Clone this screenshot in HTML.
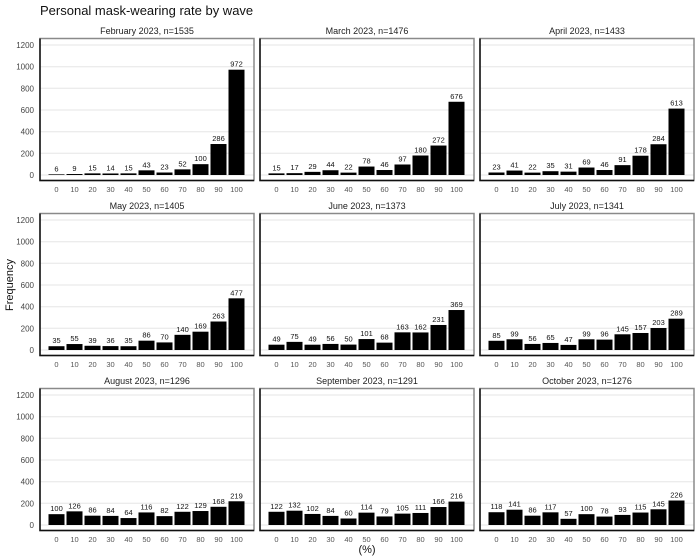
<!DOCTYPE html>
<html><head><meta charset="utf-8"><style>
html,body{margin:0;padding:0;background:#fff;}
svg{display:block;font-family:"Liberation Sans",sans-serif;}
.g{stroke:#e6e6e6;stroke-width:1;}
.bx{fill:none;stroke:#8a8a8a;stroke-width:1.5;}
.ax{stroke:#111;stroke-width:1.5;fill:none;}
.t{font-size:9px;fill:#222;text-anchor:middle;}
.v{font-size:7.5px;fill:#111;text-anchor:middle;}
.xt{font-size:7.5px;fill:#555;text-anchor:middle;}
.yt{font-size:8px;fill:#444;text-anchor:end;}
</style></head><body>
<svg width="700" height="560" viewBox="0 0 700 560" xmlns="http://www.w3.org/2000/svg">
<text x="40" y="15" font-size="13" fill="#111">Personal mask-wearing rate by wave</text>
<text transform="translate(13,285) rotate(-90)" font-size="11" fill="#111" text-anchor="middle">Frequency</text>
<text x="367" y="553" font-size="11" fill="#111" text-anchor="middle">(%)</text>

<g>
<text class="yt" x="34" y="178">0</text><text class="yt" x="34" y="156.3">200</text><text class="yt" x="34" y="134.7">400</text><text class="yt" x="34" y="113">600</text><text class="yt" x="34" y="91.3">800</text><text class="yt" x="34" y="69.7">1000</text><text class="yt" x="34" y="48">1200</text>
</g>
<g transform="translate(0,175)">
<text class="yt" x="34" y="178">0</text><text class="yt" x="34" y="156.3">200</text><text class="yt" x="34" y="134.7">400</text><text class="yt" x="34" y="113">600</text><text class="yt" x="34" y="91.3">800</text><text class="yt" x="34" y="69.7">1000</text><text class="yt" x="34" y="48">1200</text>
</g>
<g transform="translate(0,350)">
<text class="yt" x="34" y="178">0</text><text class="yt" x="34" y="156.3">200</text><text class="yt" x="34" y="134.7">400</text><text class="yt" x="34" y="113">600</text><text class="yt" x="34" y="91.3">800</text><text class="yt" x="34" y="69.7">1000</text><text class="yt" x="34" y="48">1200</text>
</g>

<defs>
<g id="frame">
<path class="g" d="M40 175H254M40 153.3H254M40 131.7H254M40 110H254M40 88.3H254M40 66.7H254M40 45H254"/>
<rect class="bx" x="40" y="38.5" width="214" height="142"/>
<path class="ax" d="M40 38.5V180.5H254"/>
</g>
</defs>

<use href="#frame"/><use href="#frame" x="220"/><use href="#frame" x="440"/>
<use href="#frame" y="175"/><use href="#frame" x="220" y="175"/><use href="#frame" x="440" y="175"/>
<use href="#frame" y="350"/><use href="#frame" x="220" y="350"/><use href="#frame" x="440" y="350"/>

<g>
<text class="xt" x="56.5" y="192">0</text><text class="xt" x="74.5" y="192">10</text><text class="xt" x="92.5" y="192">20</text><text class="xt" x="110.5" y="192">30</text><text class="xt" x="128.5" y="192">40</text><text class="xt" x="146.5" y="192">50</text><text class="xt" x="164.5" y="192">60</text><text class="xt" x="182.5" y="192">70</text><text class="xt" x="200.5" y="192">80</text><text class="xt" x="218.5" y="192">90</text><text class="xt" x="236.5" y="192">100</text>
</g>
<g transform="translate(220,0)">
<text class="xt" x="56.5" y="192">0</text><text class="xt" x="74.5" y="192">10</text><text class="xt" x="92.5" y="192">20</text><text class="xt" x="110.5" y="192">30</text><text class="xt" x="128.5" y="192">40</text><text class="xt" x="146.5" y="192">50</text><text class="xt" x="164.5" y="192">60</text><text class="xt" x="182.5" y="192">70</text><text class="xt" x="200.5" y="192">80</text><text class="xt" x="218.5" y="192">90</text><text class="xt" x="236.5" y="192">100</text>
</g>
<g transform="translate(440,0)">
<text class="xt" x="56.5" y="192">0</text><text class="xt" x="74.5" y="192">10</text><text class="xt" x="92.5" y="192">20</text><text class="xt" x="110.5" y="192">30</text><text class="xt" x="128.5" y="192">40</text><text class="xt" x="146.5" y="192">50</text><text class="xt" x="164.5" y="192">60</text><text class="xt" x="182.5" y="192">70</text><text class="xt" x="200.5" y="192">80</text><text class="xt" x="218.5" y="192">90</text><text class="xt" x="236.5" y="192">100</text>
</g>
<g transform="translate(0,175)">
<text class="xt" x="56.5" y="192">0</text><text class="xt" x="74.5" y="192">10</text><text class="xt" x="92.5" y="192">20</text><text class="xt" x="110.5" y="192">30</text><text class="xt" x="128.5" y="192">40</text><text class="xt" x="146.5" y="192">50</text><text class="xt" x="164.5" y="192">60</text><text class="xt" x="182.5" y="192">70</text><text class="xt" x="200.5" y="192">80</text><text class="xt" x="218.5" y="192">90</text><text class="xt" x="236.5" y="192">100</text>
</g>
<g transform="translate(220,175)">
<text class="xt" x="56.5" y="192">0</text><text class="xt" x="74.5" y="192">10</text><text class="xt" x="92.5" y="192">20</text><text class="xt" x="110.5" y="192">30</text><text class="xt" x="128.5" y="192">40</text><text class="xt" x="146.5" y="192">50</text><text class="xt" x="164.5" y="192">60</text><text class="xt" x="182.5" y="192">70</text><text class="xt" x="200.5" y="192">80</text><text class="xt" x="218.5" y="192">90</text><text class="xt" x="236.5" y="192">100</text>
</g>
<g transform="translate(440,175)">
<text class="xt" x="56.5" y="192">0</text><text class="xt" x="74.5" y="192">10</text><text class="xt" x="92.5" y="192">20</text><text class="xt" x="110.5" y="192">30</text><text class="xt" x="128.5" y="192">40</text><text class="xt" x="146.5" y="192">50</text><text class="xt" x="164.5" y="192">60</text><text class="xt" x="182.5" y="192">70</text><text class="xt" x="200.5" y="192">80</text><text class="xt" x="218.5" y="192">90</text><text class="xt" x="236.5" y="192">100</text>
</g>
<g transform="translate(0,350)">
<text class="xt" x="56.5" y="192">0</text><text class="xt" x="74.5" y="192">10</text><text class="xt" x="92.5" y="192">20</text><text class="xt" x="110.5" y="192">30</text><text class="xt" x="128.5" y="192">40</text><text class="xt" x="146.5" y="192">50</text><text class="xt" x="164.5" y="192">60</text><text class="xt" x="182.5" y="192">70</text><text class="xt" x="200.5" y="192">80</text><text class="xt" x="218.5" y="192">90</text><text class="xt" x="236.5" y="192">100</text>
</g>
<g transform="translate(220,350)">
<text class="xt" x="56.5" y="192">0</text><text class="xt" x="74.5" y="192">10</text><text class="xt" x="92.5" y="192">20</text><text class="xt" x="110.5" y="192">30</text><text class="xt" x="128.5" y="192">40</text><text class="xt" x="146.5" y="192">50</text><text class="xt" x="164.5" y="192">60</text><text class="xt" x="182.5" y="192">70</text><text class="xt" x="200.5" y="192">80</text><text class="xt" x="218.5" y="192">90</text><text class="xt" x="236.5" y="192">100</text>
</g>
<g transform="translate(440,350)">
<text class="xt" x="56.5" y="192">0</text><text class="xt" x="74.5" y="192">10</text><text class="xt" x="92.5" y="192">20</text><text class="xt" x="110.5" y="192">30</text><text class="xt" x="128.5" y="192">40</text><text class="xt" x="146.5" y="192">50</text><text class="xt" x="164.5" y="192">60</text><text class="xt" x="182.5" y="192">70</text><text class="xt" x="200.5" y="192">80</text><text class="xt" x="218.5" y="192">90</text><text class="xt" x="236.5" y="192">100</text>
</g>

<text class="t" x="147" y="34">February 2023, n=1535</text>
<text class="t" x="367" y="34">March 2023, n=1476</text>
<text class="t" x="587" y="34">April 2023, n=1433</text>
<text class="t" x="147" y="209">May 2023, n=1405</text>
<text class="t" x="367" y="209">June 2023, n=1373</text>
<text class="t" x="587" y="209">July 2023, n=1341</text>
<text class="t" x="147" y="384">August 2023, n=1296</text>
<text class="t" x="367" y="384">September 2023, n=1291</text>
<text class="t" x="587" y="384">October 2023, n=1276</text>

<g>
<g transform="translate(0,175) scale(1,-0.10833)" fill="#000">
<rect x="48.5" width="16" height="6"/><rect x="66.5" width="16" height="9"/><rect x="84.5" width="16" height="15"/><rect x="102.5" width="16" height="14"/><rect x="120.5" width="16" height="15"/><rect x="138.5" width="16" height="43"/><rect x="156.5" width="16" height="23"/><rect x="174.5" width="16" height="52"/><rect x="192.5" width="16" height="100"/><rect x="210.5" width="16" height="286"/><rect x="228.5" width="16" height="972"/>
</g>
<text class="v" x="56.5" y="171.4">6</text><text class="v" x="74.5" y="171">9</text><text class="v" x="92.5" y="170.4">15</text><text class="v" x="110.5" y="170.5">14</text><text class="v" x="128.5" y="170.4">15</text><text class="v" x="146.5" y="167.3">43</text><text class="v" x="164.5" y="169.5">23</text><text class="v" x="182.5" y="166.4">52</text><text class="v" x="200.5" y="161.2">100</text><text class="v" x="218.5" y="141">286</text><text class="v" x="236.5" y="66.7">972</text>
</g>
<g transform="translate(220,0)">
<g transform="translate(0,175) scale(1,-0.10833)" fill="#000">
<rect x="48.5" width="16" height="15"/><rect x="66.5" width="16" height="17"/><rect x="84.5" width="16" height="29"/><rect x="102.5" width="16" height="44"/><rect x="120.5" width="16" height="22"/><rect x="138.5" width="16" height="78"/><rect x="156.5" width="16" height="46"/><rect x="174.5" width="16" height="97"/><rect x="192.5" width="16" height="180"/><rect x="210.5" width="16" height="272"/><rect x="228.5" width="16" height="676"/>
</g>
<text class="v" x="56.5" y="170.4">15</text><text class="v" x="74.5" y="170.2">17</text><text class="v" x="92.5" y="168.9">29</text><text class="v" x="110.5" y="167.2">44</text><text class="v" x="128.5" y="169.6">22</text><text class="v" x="146.5" y="163.5">78</text><text class="v" x="164.5" y="167">46</text><text class="v" x="182.5" y="161.5">97</text><text class="v" x="200.5" y="152.5">180</text><text class="v" x="218.5" y="142.5">272</text><text class="v" x="236.5" y="98.8">676</text>
</g>
<g transform="translate(440,0)">
<g transform="translate(0,175) scale(1,-0.10833)" fill="#000">
<rect x="48.5" width="16" height="23"/><rect x="66.5" width="16" height="41"/><rect x="84.5" width="16" height="22"/><rect x="102.5" width="16" height="35"/><rect x="120.5" width="16" height="31"/><rect x="138.5" width="16" height="69"/><rect x="156.5" width="16" height="46"/><rect x="174.5" width="16" height="91"/><rect x="192.5" width="16" height="178"/><rect x="210.5" width="16" height="284"/><rect x="228.5" width="16" height="613"/>
</g>
<text class="v" x="56.5" y="169.5">23</text><text class="v" x="74.5" y="167.6">41</text><text class="v" x="92.5" y="169.6">22</text><text class="v" x="110.5" y="168.2">35</text><text class="v" x="128.5" y="168.6">31</text><text class="v" x="146.5" y="164.5">69</text><text class="v" x="164.5" y="167">46</text><text class="v" x="182.5" y="162.1">91</text><text class="v" x="200.5" y="152.7">178</text><text class="v" x="218.5" y="141.2">284</text><text class="v" x="236.5" y="105.6">613</text>
</g>
<g transform="translate(0,175)">
<g transform="translate(0,175) scale(1,-0.10833)" fill="#000">
<rect x="48.5" width="16" height="35"/><rect x="66.5" width="16" height="55"/><rect x="84.5" width="16" height="39"/><rect x="102.5" width="16" height="36"/><rect x="120.5" width="16" height="35"/><rect x="138.5" width="16" height="86"/><rect x="156.5" width="16" height="70"/><rect x="174.5" width="16" height="140"/><rect x="192.5" width="16" height="169"/><rect x="210.5" width="16" height="263"/><rect x="228.5" width="16" height="477"/>
</g>
<text class="v" x="56.5" y="168.2">35</text><text class="v" x="74.5" y="166">55</text><text class="v" x="92.5" y="167.8">39</text><text class="v" x="110.5" y="168.1">36</text><text class="v" x="128.5" y="168.2">35</text><text class="v" x="146.5" y="162.7">86</text><text class="v" x="164.5" y="164.4">70</text><text class="v" x="182.5" y="156.8">140</text><text class="v" x="200.5" y="153.7">169</text><text class="v" x="218.5" y="143.5">263</text><text class="v" x="236.5" y="120.3">477</text>
</g>
<g transform="translate(220,175)">
<g transform="translate(0,175) scale(1,-0.10833)" fill="#000">
<rect x="48.5" width="16" height="49"/><rect x="66.5" width="16" height="75"/><rect x="84.5" width="16" height="49"/><rect x="102.5" width="16" height="56"/><rect x="120.5" width="16" height="50"/><rect x="138.5" width="16" height="101"/><rect x="156.5" width="16" height="68"/><rect x="174.5" width="16" height="163"/><rect x="192.5" width="16" height="162"/><rect x="210.5" width="16" height="231"/><rect x="228.5" width="16" height="369"/>
</g>
<text class="v" x="56.5" y="166.7">49</text><text class="v" x="74.5" y="163.9">75</text><text class="v" x="92.5" y="166.7">49</text><text class="v" x="110.5" y="165.9">56</text><text class="v" x="128.5" y="166.6">50</text><text class="v" x="146.5" y="161.1">101</text><text class="v" x="164.5" y="164.6">68</text><text class="v" x="182.5" y="154.3">163</text><text class="v" x="200.5" y="154.5">162</text><text class="v" x="218.5" y="147">231</text><text class="v" x="236.5" y="132">369</text>
</g>
<g transform="translate(440,175)">
<g transform="translate(0,175) scale(1,-0.10833)" fill="#000">
<rect x="48.5" width="16" height="85"/><rect x="66.5" width="16" height="99"/><rect x="84.5" width="16" height="56"/><rect x="102.5" width="16" height="65"/><rect x="120.5" width="16" height="47"/><rect x="138.5" width="16" height="99"/><rect x="156.5" width="16" height="96"/><rect x="174.5" width="16" height="145"/><rect x="192.5" width="16" height="157"/><rect x="210.5" width="16" height="203"/><rect x="228.5" width="16" height="289"/>
</g>
<text class="v" x="56.5" y="162.8">85</text><text class="v" x="74.5" y="161.3">99</text><text class="v" x="92.5" y="165.9">56</text><text class="v" x="110.5" y="165">65</text><text class="v" x="128.5" y="166.9">47</text><text class="v" x="146.5" y="161.3">99</text><text class="v" x="164.5" y="161.6">96</text><text class="v" x="182.5" y="156.3">145</text><text class="v" x="200.5" y="155">157</text><text class="v" x="218.5" y="150">203</text><text class="v" x="236.5" y="140.7">289</text>
</g>
<g transform="translate(0,350)">
<g transform="translate(0,175) scale(1,-0.10833)" fill="#000">
<rect x="48.5" width="16" height="100"/><rect x="66.5" width="16" height="126"/><rect x="84.5" width="16" height="86"/><rect x="102.5" width="16" height="84"/><rect x="120.5" width="16" height="64"/><rect x="138.5" width="16" height="116"/><rect x="156.5" width="16" height="82"/><rect x="174.5" width="16" height="122"/><rect x="192.5" width="16" height="129"/><rect x="210.5" width="16" height="168"/><rect x="228.5" width="16" height="219"/>
</g>
<text class="v" x="56.5" y="161.2">100</text><text class="v" x="74.5" y="158.3">126</text><text class="v" x="92.5" y="162.7">86</text><text class="v" x="110.5" y="162.9">84</text><text class="v" x="128.5" y="165.1">64</text><text class="v" x="146.5" y="159.4">116</text><text class="v" x="164.5" y="163.1">82</text><text class="v" x="182.5" y="158.8">122</text><text class="v" x="200.5" y="158">129</text><text class="v" x="218.5" y="153.8">168</text><text class="v" x="236.5" y="148.3">219</text>
</g>
<g transform="translate(220,350)">
<g transform="translate(0,175) scale(1,-0.10833)" fill="#000">
<rect x="48.5" width="16" height="122"/><rect x="66.5" width="16" height="132"/><rect x="84.5" width="16" height="102"/><rect x="102.5" width="16" height="84"/><rect x="120.5" width="16" height="60"/><rect x="138.5" width="16" height="114"/><rect x="156.5" width="16" height="79"/><rect x="174.5" width="16" height="105"/><rect x="192.5" width="16" height="111"/><rect x="210.5" width="16" height="166"/><rect x="228.5" width="16" height="216"/>
</g>
<text class="v" x="56.5" y="158.8">122</text><text class="v" x="74.5" y="157.7">132</text><text class="v" x="92.5" y="161">102</text><text class="v" x="110.5" y="162.9">84</text><text class="v" x="128.5" y="165.5">60</text><text class="v" x="146.5" y="159.7">114</text><text class="v" x="164.5" y="163.4">79</text><text class="v" x="182.5" y="160.6">105</text><text class="v" x="200.5" y="160">111</text><text class="v" x="218.5" y="154">166</text><text class="v" x="236.5" y="148.6">216</text>
</g>
<g transform="translate(440,350)">
<g transform="translate(0,175) scale(1,-0.10833)" fill="#000">
<rect x="48.5" width="16" height="118"/><rect x="66.5" width="16" height="141"/><rect x="84.5" width="16" height="86"/><rect x="102.5" width="16" height="117"/><rect x="120.5" width="16" height="57"/><rect x="138.5" width="16" height="100"/><rect x="156.5" width="16" height="78"/><rect x="174.5" width="16" height="93"/><rect x="192.5" width="16" height="115"/><rect x="210.5" width="16" height="145"/><rect x="228.5" width="16" height="226"/>
</g>
<text class="v" x="56.5" y="159.2">118</text><text class="v" x="74.5" y="156.7">141</text><text class="v" x="92.5" y="162.7">86</text><text class="v" x="110.5" y="159.3">117</text><text class="v" x="128.5" y="165.8">57</text><text class="v" x="146.5" y="161.2">100</text><text class="v" x="164.5" y="163.5">78</text><text class="v" x="182.5" y="161.9">93</text><text class="v" x="200.5" y="159.5">115</text><text class="v" x="218.5" y="156.3">145</text><text class="v" x="236.5" y="147.5">226</text>
</g>
</svg>
</body></html>
